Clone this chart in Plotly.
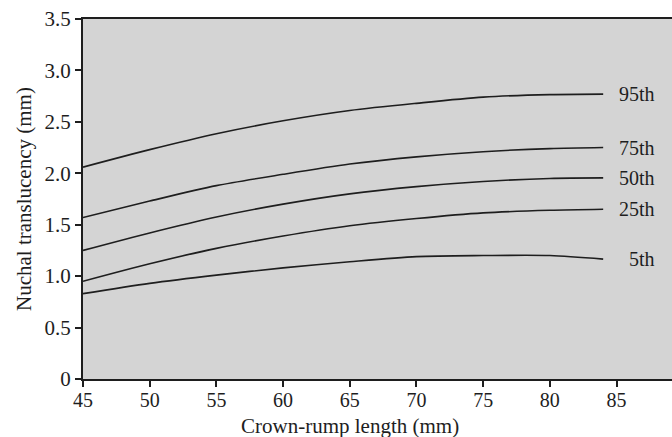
import plotly.graph_objects as go

crl = [45, 50, 55, 60, 65, 70, 75, 80, 84]
p95 = [2.06, 2.23, 2.385, 2.51, 2.61, 2.68, 2.74, 2.765, 2.77]
p75 = [1.57, 1.73, 1.88, 1.99, 2.09, 2.16, 2.21, 2.24, 2.25]
p50 = [1.25, 1.42, 1.575, 1.70, 1.80, 1.87, 1.92, 1.95, 1.955]
p25 = [0.95, 1.12, 1.27, 1.39, 1.49, 1.56, 1.615, 1.64, 1.65]
p05 = [0.83, 0.93, 1.01, 1.08, 1.14, 1.19, 1.20, 1.20, 1.165]
series = [("95th", p95), ("75th", p75), ("50th", p50), ("25th", p25), ("5th", p05)]

x_ticks = [45, 50, 55, 60, 65, 70, 75, 80, 85]
y_ticks = [0, 0.5, 1.0, 1.5, 2.0, 2.5, 3.0, 3.5]
y_ticktext = ["0", "0.5", "1.0", "1.5", "2.0", "2.5", "3.0", "3.5"]

FONT = "'Liberation Serif', 'DejaVu Serif', serif"
INK = "#1e1e1e"

fig = go.Figure()
for name, vals in series:
    fig.add_trace(go.Scatter(x=crl, y=vals, mode="lines", name=name,
                             line=dict(color=INK, width=1.6, shape="spline", smoothing=0.8),
                             showlegend=False, hoverinfo="skip"))
    fig.add_annotation(x=88.05, y=vals[-1], text=name, showarrow=False,
                       xanchor="right", yanchor="middle",
                       font=dict(family=FONT, size=20, color=INK))

fig.add_annotation(x=65, y=0, xref="x", yref="paper", yshift=-47, text="Crown-rump length (mm)",
                   showarrow=False, xanchor="center", yanchor="middle",
                   font=dict(family=FONT, size=21, color=INK))
fig.add_annotation(x=0, y=0.5, xref="paper", yref="paper", xshift=-59, text="Nuchal translucency (mm)",
                   textangle=-90, showarrow=False, xanchor="center", yanchor="middle",
                   font=dict(family=FONT, size=21, color=INK))

fig.update_layout(
    width=672, height=437,
    margin=dict(l=83, r=0, t=19, b=58),
    paper_bgcolor="white", plot_bgcolor="#d4d4d4",
    font=dict(family=FONT, size=20, color=INK),
)
fig.update_xaxes(range=[45, 89.16], tickvals=x_ticks, ticks="outside", ticklen=6, tickwidth=1.5,
                 tickcolor=INK, showline=True, linecolor=INK, linewidth=2, mirror=True,
                 ticklabelstandoff=-4,
                 showgrid=False, zeroline=False, tickfont=dict(family=FONT, size=20, color=INK))
fig.update_yaxes(range=[0, 3.5], tickvals=y_ticks, ticktext=y_ticktext, ticks="outside", ticklen=6,
                 tickwidth=1.5, tickcolor=INK, showline=True, linecolor=INK, linewidth=2,
                 showgrid=False, zeroline=False, tickfont=dict(family=FONT, size=21, color=INK))

fig.write_html("out.html", config={"displayModeBar": False},
               post_script="document.body.style.margin='0';")
